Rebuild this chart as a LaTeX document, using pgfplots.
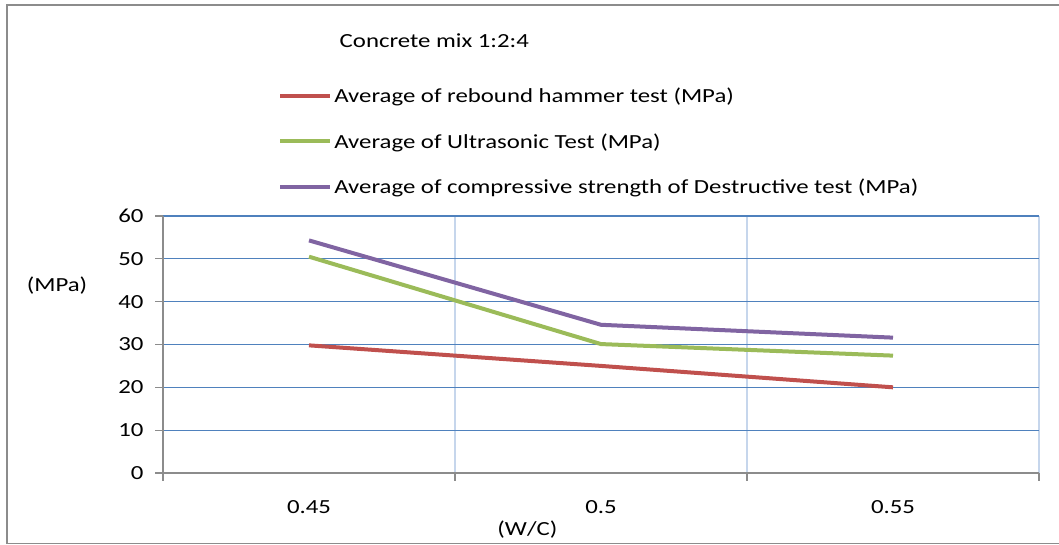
\documentclass[border=0pt]{standalone}
\usepackage{pgfplots}
\pgfplotsset{compat=1.18}
\usepackage{fontspec}
\setmainfont[FakeStretch=1.24]{Carlito}

\definecolor{serred}{HTML}{C0504D}
\definecolor{sergreen}{HTML}{9BBB59}
\definecolor{serpurple}{HTML}{8064A2}
\definecolor{gridblue}{HTML}{4F81BD}
\definecolor{gridlight}{HTML}{C6D6EC}
\definecolor{axgray}{HTML}{8C8C8C}

\begin{document}
\begin{tikzpicture}
\path[use as bounding box] (0,0) rectangle (1059pt,545pt);
\draw[axgray, line width=1.5pt] (1060pt,540pt) -- (7pt,540pt) -- (7pt,1.5pt) -- (1060pt,1.5pt);
\begin{axis}[
  at={(163pt,72pt)}, anchor=south west,
  scale only axis, width=876pt, height=257pt,
  xmin=-0.5, xmax=2.5, ymin=0, ymax=60,
  axis x line=bottom, axis y line=left,
  axis line style={axgray, line width=1.4pt, -},
  xtick={0,1,2}, xticklabels={0.45,0.5,0.55},
  major x tick style={draw=none},
  minor xtick={-0.5,0.5,1.5,2.5},
  xminorgrids, minor x grid style={gridlight, line width=1.2pt},
  minor tick length=8pt,
  ytick={0,10,...,60},
  ymajorgrids, major y grid style={gridblue, line width=1.2pt},
  major tick length=8pt,
  tick align=outside,
  tick style={axgray, line width=1.2pt},
  tick label style={font=\fontsize{20}{22}\selectfont},
  /pgf/number format/assume math mode=true,
  xticklabel style={yshift=-16pt},
  yticklabel style={xshift=-8pt},
  xlabel={(W/C)},
  xlabel style={font=\fontsize{20}{22}\selectfont, at={(axis description cs:0.416,-0.222)}, anchor=center},
  ylabel={(MPa)},
  ylabel style={font=\fontsize{20}{22}\selectfont, rotate=-90, at={(axis description cs:-0.121,0.73)}, anchor=center},
  title={Concrete mix 1:2:4},
  title style={font=\fontsize{20}{22}\selectfont, at={(axis description cs:0.3097,1.657)}, anchor=center},
  legend style={at={(axis description cs:0.1314,1.5055)}, anchor=north west,
    draw=none, fill=none, inner sep=0pt, row sep=25pt,
    font=\fontsize{20}{22}\selectfont,
    nodes={inner sep=2pt}},
  legend cell align=left,
  legend image code/.code={\draw[#1] (0pt,0pt) -- (50pt,0pt);},
  clip=false,
]
\addplot[serred, line width=4pt] coordinates {(0,29.8) (1,25.0) (2,20.0)};
\addplot[sergreen, line width=4pt] coordinates {(0,50.5) (1,30.1) (2,27.4)};
\addplot[serpurple, line width=4pt] coordinates {(0,54.3) (1,34.6) (2,31.6)};
\legend{Average of rebound hammer test (MPa),Average of Ultrasonic Test (MPa),Average of compressive strength of Destructive test (MPa)}
\end{axis}
\end{tikzpicture}
\end{document}
